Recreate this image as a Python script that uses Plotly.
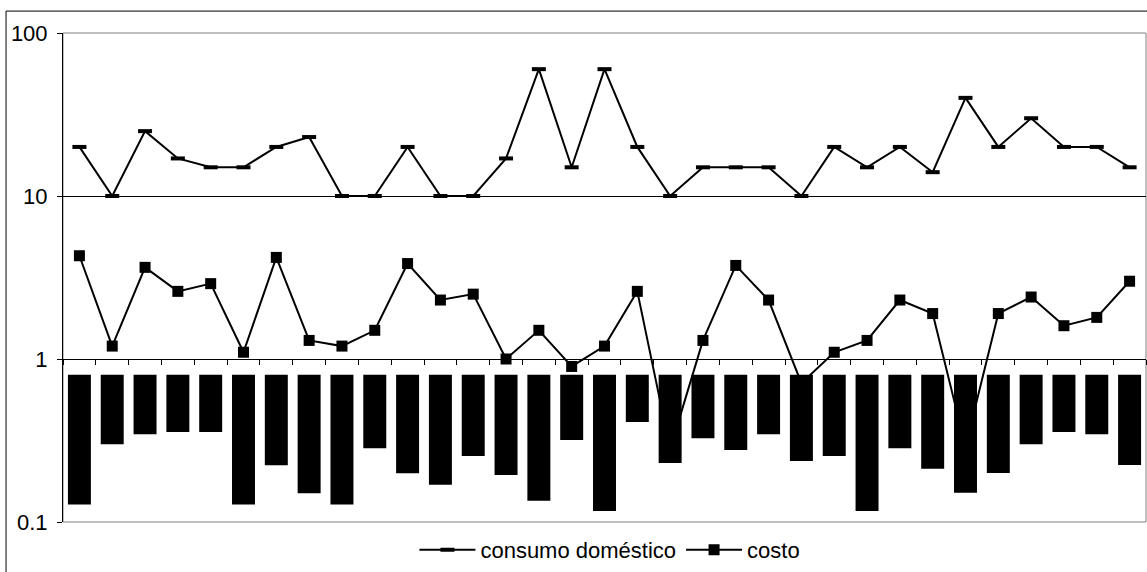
import plotly.graph_objects as go

# 33 observations along the horizontal axis
categories = [str(i) for i in range(1, 34)]

consumo_domestico = [20, 10, 25, 17, 15, 15, 20, 23, 10, 10,
                     20, 10, 10, 17, 60, 15, 60, 20, 10, 15,
                     15, 15, 10, 20, 15, 20, 14, 40, 20, 30,
                     20, 20, 15]

costo = [4.3, 1.2, 3.65, 2.6, 2.9, 1.1, 4.2, 1.3, 1.2, 1.5,
         3.85, 2.3, 2.5, 1.0, 1.5, 0.9, 1.2, 2.6, 0.28, 1.3,
         3.75, 2.3, 0.71, 1.1, 1.3, 2.3, 1.9, 0.29, 1.9, 2.4,
         1.6, 1.8, 3.0]

# hanging bars: each bar runs from BAR_TOP down to its value
BAR_TOP = 0.8
barras = [0.128, 0.30, 0.345, 0.356, 0.356, 0.128, 0.223, 0.150, 0.128, 0.283,
          0.199, 0.169, 0.254, 0.194, 0.135, 0.318, 0.117, 0.41, 0.23, 0.326,
          0.277, 0.345, 0.237, 0.254, 0.117, 0.283, 0.212, 0.151, 0.20, 0.30,
          0.356, 0.345, 0.224]

tick_vals = [0.1, 1, 10, 100]
tick_text = ["0.1", "1", "10", "100"]

FONT = "Liberation Sans, Arial, sans-serif"

fig = go.Figure()

fig.add_trace(go.Bar(
    x=categories,
    y=[BAR_TOP - v for v in barras],
    base=barras,
    marker=dict(color="black", line=dict(width=0)),
    showlegend=False,
    hoverinfo="skip",
))

fig.add_trace(go.Scatter(
    x=categories, y=consumo_domestico, name="consumo doméstico",
    mode="lines+markers",
    line=dict(color="black", width=2),
    marker=dict(symbol="line-ew", size=10, color="black",
                line=dict(width=4, color="black")),
))

fig.add_trace(go.Scatter(
    x=categories, y=costo, name="costo",
    mode="lines+markers",
    line=dict(color="black", width=2),
    marker=dict(symbol="square", size=11, color="black"),
))

# plot-area frame and outer chart border
fig.add_shape(type="rect", xref="paper", yref="paper", x0=0, x1=1, y0=0, y1=1,
              line=dict(color="#808080", width=1), layer="below")
fig.add_shape(type="rect", xref="paper", yref="paper",
              x0=-0.0526, x1=1.05, y0=-0.3, y1=1.0448,
              line=dict(color="black", width=1), layer="below")

fig.update_layout(
    width=1147, height=572,
    margin=dict(l=63, r=1, t=33, b=48),
    paper_bgcolor="white", plot_bgcolor="white",
    font=dict(family=FONT, size=22, color="black"),
    bargap=0.3,
    showlegend=True,
    legend=dict(orientation="h", x=0.505, xanchor="center",
                y=-0.057, yanchor="middle",
                font=dict(family=FONT, size=22, color="black"),
                itemwidth=56, bgcolor="rgba(0,0,0,0)"),
    xaxis=dict(type="category", anchor="free", position=1/3,
               range=[-0.5, len(categories) - 0.5], autorange=False,
               showline=True, linecolor="black", linewidth=1,
               ticks="outside", ticklen=5, tickcolor="black", tickwidth=1,
               tickson="boundaries", showticklabels=False,
               showgrid=False, zeroline=False, fixedrange=True),
    yaxis=dict(type="log", range=[-1, 2],
               tickvals=tick_vals, ticktext=tick_text,
               showline=True, linecolor="black", linewidth=1,
               ticks="outside", ticklen=5, tickcolor="black",
               ticklabelstandoff=5,
               showgrid=True, gridcolor="black", gridwidth=1,
               zeroline=False, fixedrange=True,
               tickfont=dict(family=FONT, size=22, color="black")),
)

fig.write_html("out.html")
